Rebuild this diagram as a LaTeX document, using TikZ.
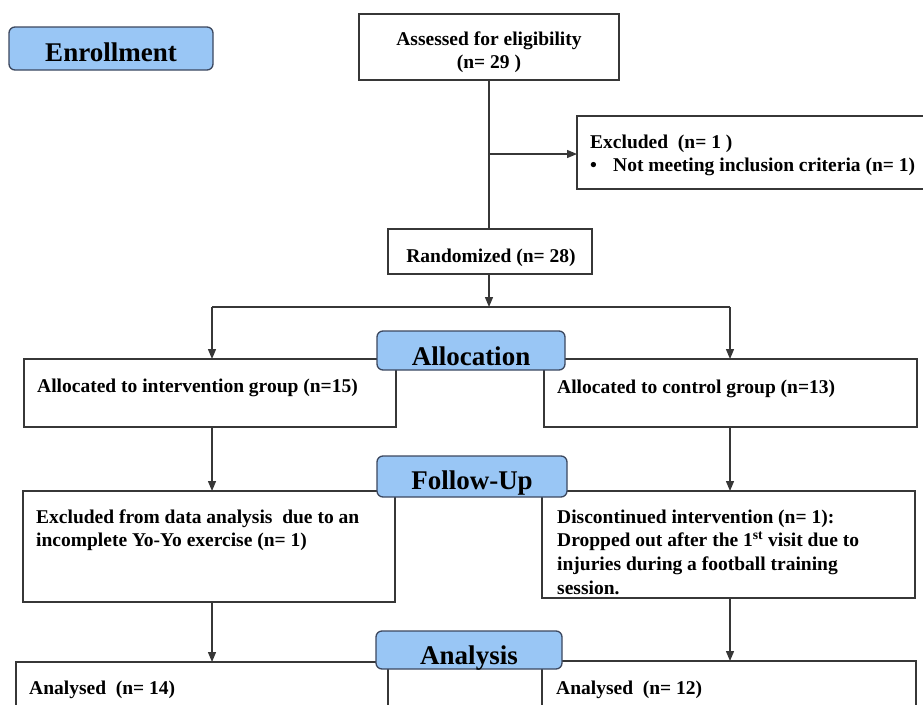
\documentclass[tikz,border=0pt]{standalone}
\usepackage{fontspec}
\setmainfont{Liberation Serif}
\usetikzlibrary{arrows.meta}
\definecolor{headfill}{RGB}{153,198,245}
\definecolor{headdraw}{RGB}{60,72,95}
\definecolor{boxdraw}{RGB}{55,55,55}
\begin{document}
\begin{tikzpicture}[x=1pt,y=-1pt,
 box/.style={draw=boxdraw,line width=1.3pt,fill=white,inner sep=0pt,outer sep=0pt},
 head/.style={draw=headdraw,line width=1.3pt,fill=headfill,rounded corners=6pt,inner sep=0pt,outer sep=0pt},
 htxt/.style={inner sep=0pt,anchor=base,font=\fontsize{27}{30}\selectfont\bfseries},
 txt/.style={inner sep=0pt,anchor=base west,font=\fontsize{19.5}{23.7}\selectfont\bfseries},
 ctxt/.style={txt,anchor=base},
 conn/.style={draw=boxdraw,line width=1.3pt},
 arr/.style={conn,-{Triangle[length=10pt,width=8pt]}}]
\clip (0,0) rectangle (923,704);
\fill[white] (0,0) rectangle (923,704);

% boxes
\node[box,minimum width=260pt,minimum height=66pt] (assess) at (489,47) {};
\node[box,minimum width=373pt,minimum height=73pt] (excl) at (763.5,152.5) {};
\node[box,minimum width=204pt,minimum height=45pt] (rand) at (490,251.5) {};
\node[box,minimum width=372pt,minimum height=68pt] (allocL) at (210,393) {};
\node[box,minimum width=373pt,minimum height=68pt] (allocR) at (730.5,393) {};
\node[box,minimum width=372pt,minimum height=111pt] (fuL) at (209,546.5) {};
\node[box,minimum width=373pt,minimum height=107pt] (fuR) at (728.5,544.5) {};
\node[box,minimum width=372pt,minimum height=68pt] (anL) at (202,696) {};
\node[box,minimum width=374pt,minimum height=68pt] (anR) at (729,695) {};

% connectors
\coordinate (j1) at (489,154);
\coordinate (split) at (489,307);
\coordinate (sL) at (212,307);
\coordinate (sR) at (730,307);
\draw[conn] (assess.south) -- (assess.south |- rand.north);
\draw[arr] (j1) -- (excl.west |- j1);
\draw[arr] (split |- rand.south) -- (split);
\draw[conn] (sL) -- (sR);
\draw[arr] (sL) -- (sL |- allocL.north);
\draw[arr] (sR) -- (sR |- allocR.north);
\draw[arr] (sL |- allocL.south) -- (sL |- fuL.north);
\draw[arr] (sR |- allocR.south) -- (sR |- fuR.north);
\draw[arr] (sL |- fuL.south) -- (sL |- anL.north);
\draw[arr] (sR |- fuR.south) -- (sR |- anR.north);

% headings
\node[head,minimum width=204pt,minimum height=43pt] (enroll) at (111,48.5) {};
\node[htxt] (enrollT) at (111,61) {Enrollment};
\node[head,minimum width=188pt,minimum height=39pt] (allocH) at (471,350.5) {};
\node[htxt] (allocHT) at (471,365) {Allocation};
\node[head,minimum width=190pt,minimum height=41pt] (fuH) at (472,476.5) {};
\node[htxt] (fuHT) at (472,489) {Follow-Up};
\node[head,minimum width=186pt,minimum height=38pt] (anH) at (469,650) {};
\node[htxt] (anHT) at (469,664) {Analysis};

% texts
\node[ctxt] (assessT) at (489,45) {\vtop{\halign{\hfil#\hfil\cr Assessed for eligibility\cr (n= 29 )\cr}}};
\node[txt] (exclT) at (590,148) {\vtop{\hbox{Excluded\ \ (n= 1 )}\hbox{\makebox[23pt][l]{\textbullet}Not meeting inclusion criteria (n= 1)}}};
\node[ctxt] (randT) at (491,262) {Randomized (n= 28)};
\node[txt] (allocLT) at (37,392) {Allocated to intervention group (n=15)};
\node[txt] (allocRT) at (557,393) {Allocated to control group (n=13)};
\node[txt] (fuLT) at (36,523) {\vtop{\hbox{Excluded from data analysis\ \ due to an}\hbox{incomplete Yo-Yo exercise (n= 1)}}};
\node[txt] (fuRT) at (557,523) {\vtop{\hbox{Discontinued intervention (n= 1):}\hbox{Dropped out after the 1\textsuperscript{st} visit due to}\hbox{injuries during a football training}\hbox{session.}}};
\node[txt] (anLT) at (29,694) {Analysed\ \ (n= 14)};
\node[txt] (anRT) at (556,694) {Analysed\ \ (n= 12)};
\end{tikzpicture}
\end{document}
